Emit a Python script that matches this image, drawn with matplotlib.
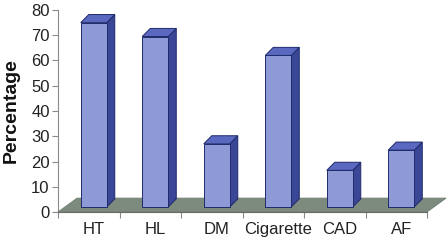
import numpy as np
import matplotlib.pyplot as plt
from matplotlib.patches import Polygon

plt.rcParams['font.family'] = ['Liberation Sans', 'DejaVu Sans']

# ------------------------------------------------------------
# Data
# ------------------------------------------------------------

categories = ["HT", "HL", "DM", "Cigarette", "CAD", "AF"]
percentages = [73, 67.5, 25, 60, 14.5, 22.5]
y_ticks = [0, 10, 20, 30, 40, 50, 60, 70, 80]

# ------------------------------------------------------------
# Look of the fake 3D columns
# ------------------------------------------------------------

front_color = "#8e9ad6"
side_color = "#3a4796"
top_color = "#5a68c0"
edge_color = "#1f2a6b"
floor_color = "#7d8b7e"

bar_left = -0.13      # front face left edge, relative to category
bar_width = 0.423
bar_base = 2.0        # bars stand a bit back on the floor
depth_dx = 0.13
depth_dy = 3.2
floor_dx = 0.31
floor_dy = 5.5

fig = plt.figure(figsize=(4.48, 2.44), dpi=100)
ax = fig.add_axes([58 / 448, 32 / 244, 369 / 448, 202 / 244])
ax.set_xlim(-0.5, 5.5)
ax.set_ylim(0, 80)

# floor
floor = Polygon(
    [(-0.5, 0), (5.5, 0), (5.5 + floor_dx, floor_dy), (-0.5 + floor_dx, floor_dy)],
    closed=True, facecolor=floor_color, edgecolor="#6f7c70", lw=0.6, clip_on=False, zorder=1,
)
ax.add_patch(floor)

for i, v in enumerate(percentages):
    x0 = i + bar_left
    x1 = x0 + bar_width
    y0 = bar_base
    y1 = bar_base + v

    side = Polygon(
        [(x1, y0), (x1 + depth_dx, y0 + depth_dy), (x1 + depth_dx, y1 + depth_dy), (x1, y1)],
        closed=True, facecolor=side_color, edgecolor=edge_color, lw=0.7, clip_on=False, zorder=3,
    )
    top = Polygon(
        [(x0, y1), (x1, y1), (x1 + depth_dx, y1 + depth_dy), (x0 + depth_dx, y1 + depth_dy)],
        closed=True, facecolor=top_color, edgecolor=edge_color, lw=0.7, clip_on=False, zorder=3,
    )
    front = Polygon(
        [(x0, y0), (x1, y0), (x1, y1), (x0, y1)],
        closed=True, facecolor=front_color, edgecolor=edge_color, lw=0.7, clip_on=False, zorder=4,
    )
    ax.add_patch(side)
    ax.add_patch(top)
    ax.add_patch(front)

# axes styling
for s in ["top", "right"]:
    ax.spines[s].set_visible(False)
ax.spines["left"].set_color("#8a8a8a")
ax.spines["bottom"].set_color("#6a6a6a")
ax.spines["left"].set_zorder(0)

ax.set_yticks(y_ticks)
ax.tick_params(axis="y", length=4, width=0.8, color="#8a8a8a", pad=2, labelsize=12, labelcolor="#222222")

ax.set_xticks([i + bar_left + bar_width / 2 for i in range(len(categories))])
ax.set_xticklabels(categories)
ax.set_xticks(np.arange(-0.5, len(categories), 1.0), minor=True)
ax.tick_params(axis="x", which="major", length=0, pad=7, labelsize=12, labelcolor="#222222")
ax.tick_params(axis="x", which="minor", length=4, width=0.8, color="#8a8a8a", direction="out")

fig.text(11 / 448, 1 - 111 / 244, "Percentage", rotation=90, ha="center", va="center",
         fontsize=14, fontweight="bold", color="#111111")

fig.savefig("out.png", dpi=100)
